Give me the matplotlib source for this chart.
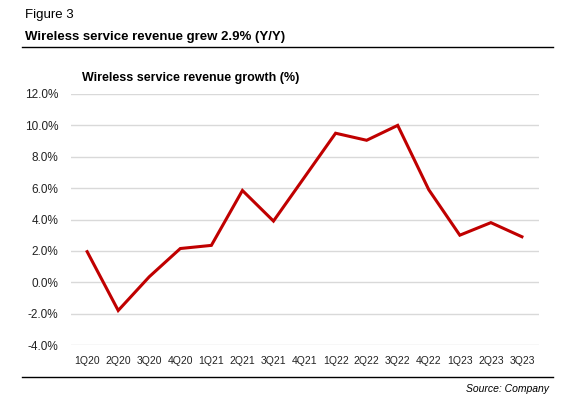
import matplotlib.pyplot as plt
import matplotlib.ticker as mticker

### DATA ###

quarters = ["1Q20", "2Q20", "3Q20", "4Q20", "1Q21", "2Q21", "3Q21", "4Q21",
            "1Q22", "2Q22", "3Q22", "4Q22", "1Q23", "2Q23", "3Q23"]
growth = [1.95, -1.8, 0.35, 2.15, 2.35, 5.85, 3.9, 6.7,
          9.5, 9.05, 10.0, 5.9, 3.0, 3.8, 2.9]
y_ticks = [-4, -2, 0, 2, 4, 6, 8, 10, 12]

### SETUP ###

plt.rcParams["font.family"] = ["Liberation Sans", "DejaVu Sans"]

W, H = 573, 398
fig = plt.figure(figsize=(W / 100, H / 100), dpi=100)

ax = fig.add_axes([71 / W, 1 - 345 / H, (539 - 71) / W, (345 - 94) / H])

x = list(range(len(quarters)))
ax.plot(x, growth, color="#C00000", linewidth=2.2, solid_joinstyle="miter", zorder=3)

ax.set_xlim(-0.52, 14.55)
ax.set_ylim(-4, 12)
ax.set_yticks(y_ticks)
ax.yaxis.set_major_formatter(mticker.FuncFormatter(lambda v, p: f"{v:.1f}%"))
ax.set_xticks(x)
ax.set_xticklabels(quarters)

ax.grid(axis="y", color="#d9d9d9", linewidth=1.0)
ax.set_axisbelow(True)
for s in ax.spines.values():
    s.set_visible(False)
ax.tick_params(axis="both", length=0, colors="#222222")
ax.tick_params(axis="y", pad=9, labelsize=8.5)
ax.tick_params(axis="x", pad=8, labelsize=7.5)

### TEXTS ###

fig.text(25 / W, 1 - 15 / H, "Figure 3", fontsize=9.5, va="center", ha="left")
fig.text(25 / W, 1 - 37 / H, "Wireless service revenue grew 2.9% (Y/Y)",
         fontsize=9.5, fontweight="bold", va="center", ha="left")
fig.text(82 / W, 1 - 78 / H, "Wireless service revenue growth (%)",
         fontsize=9, fontweight="bold", va="center", ha="left")
fig.text(549 / W, 1 - 389 / H, "Source: Company", fontsize=7.5, style="italic",
         va="center", ha="right")

fig.add_artist(plt.Line2D([22 / W, 553 / W], [1 - 47 / H, 1 - 47 / H], color="black", linewidth=1.0))
fig.add_artist(plt.Line2D([22 / W, 553 / W], [1 - 377 / H, 1 - 377 / H], color="black", linewidth=1.0))

fig.savefig("out.png", dpi=100)
